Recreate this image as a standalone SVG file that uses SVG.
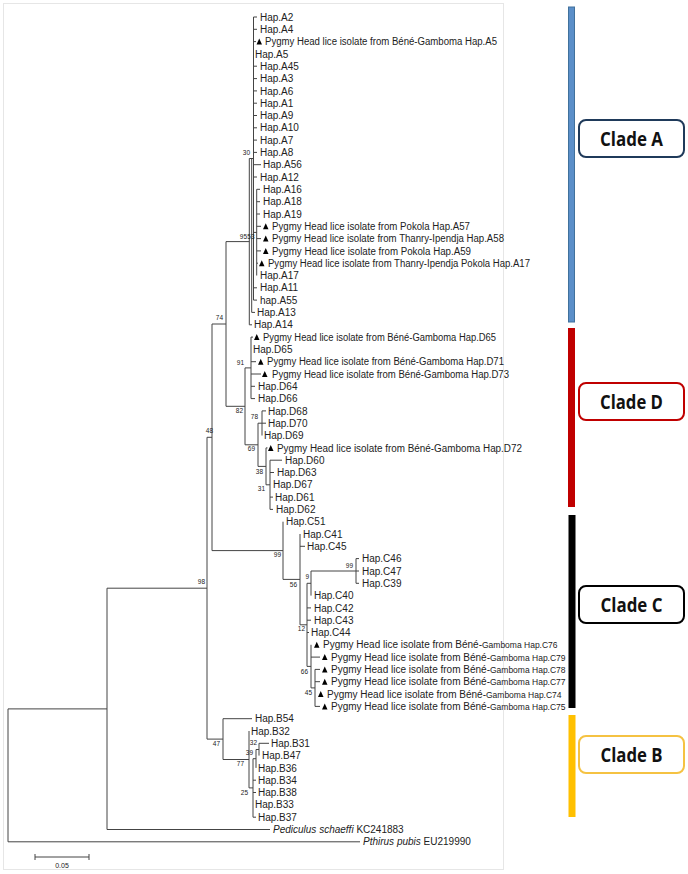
<svg xmlns="http://www.w3.org/2000/svg" xmlns:xlink="http://www.w3.org/1999/xlink" width="688" height="874" viewBox="0 0 688 874">
<defs>
<style>
.l{font-family:"Liberation Sans",Arial,sans-serif;font-size:10px;fill:#222}
.b{font-family:"Liberation Sans",Arial,sans-serif;font-size:6.5px;fill:#222;text-anchor:end}
.c{fill:none;stroke:#444;stroke-width:1}
.cl{font-family:"Open Sans","Noto Sans",sans-serif;font-weight:bold;font-size:19px;fill:#111;text-anchor:middle}
.box{fill:#fff;stroke-width:2}
.i{font-style:italic}
</style>
<path id="tri" d="M0,0 H5.5 L2.75,-6 Z" fill="#000"/>
</defs>
<rect x="0" y="0" width="688" height="874" fill="#fff"/>
<rect x="3.5" y="3.5" width="500" height="866" fill="none" stroke="#e6e6e6" stroke-width="1"/>

<g id="connectors" class="c">
<path d="M8,708.9 V841.8 M8,708.9 H107 M8,841.8 H360"/>
<path d="M107,588.2 V829.5 M107,588.2 H207 M107,829.5 H270"/>
<path d="M207,437.3 V739.1 M207,437.3 H212 M207,739.1 H223"/>
<path d="M212,324 V550.6 M212,324 H226 M212,550.6 H283"/>
<path d="M226,241.6 V406.3 M226,241.6 H249.3 M226,406.3 H245"/>
<path d="M249.3,158.5 V324.8 M249.3,158.5 H253.5 M249.3,324.8 H252"/>
<path d="M251.7,158.5 V312.4 M251.7,312.4 H255"/>
<path d="M253.5,17 V300.1 M253.5,17 H257 M253.5,29.3 H257 M253.5,41.6 H256 M253.5,66.2 H257 M253.5,78.6 H257 M253.5,90.9 H257 M253.5,103.2 H257 M253.5,115.5 H257 M253.5,127.8 H257 M253.5,140.1 H257 M253.5,152.4 H257 M253.5,164.7 H261 M253.5,177 H257 M253.5,232.4 H256.7 M253.5,287.8 H257 M253.5,300.1 H257"/>
<path d="M256.7,189.3 V275.5 M256.7,189.3 H260 M256.7,201.7 H260 M256.7,214 H260 M256.7,226.3 H261 M256.7,238.6 H261 M256.7,250.9 H261 M256.7,263.2 H258"/>
<path d="M245,367.9 V444.8 M245,367.9 H251 M245,444.8 H258"/>
<path d="M251,337.1 V398.6 M251,337.1 H253 M251,361.7 H256 M251,374 H261 M251,386.3 H255 M251,398.6 H255"/>
<path d="M258,423.2 V466.4 M258,423.2 H262 M258,466.4 H266"/>
<path d="M262,410.9 V435.5 M262,410.9 H266 M262,423.2 H266"/>
<path d="M266,447.9 V484.8 M266,447.9 H267.5 M266,484.8 H270"/>
<path d="M270,460.2 V509.4 M270,460.2 H282 M270,472.5 H274 M270,497.1 H273 M270,509.4 H273"/>
<path d="M283,521.7 V579.4 M283,579.4 H300"/>
<path d="M300,534 V624.8 M300,546.3 H305 M300,624.8 H307"/>
<path d="M307,583.3 V666.4 M307,583.3 H311 M307,607.9 H311 M307,620.2 H311 M307,632.5 H309 M307,666.4 H311"/>
<path d="M311,571 V595.6 M311,571 H356"/>
<path d="M356,558.6 V583.3 M356,558.6 H359 M356,571 H359 M356,583.3 H359"/>
<path d="M311,644.8 V687.9 M311,657.1 H320 M311,687.9 H315"/>
<path d="M315,669.4 V706.4 M315,669.4 H320 M315,681.7 H320 M315,706.4 H320"/>
<path d="M223,718.7 V759.5 M223,718.7 H252 M223,759.5 H249"/>
<path d="M249,731 V787.9 M249,787.9 H253"/>
<path d="M253,758.7 V817.2 M253,758.7 H256 M253,780.2 H256 M253,792.5 H256 M253,817.2 H256"/>
<path d="M256,749.5 V767.9 M256,749.5 H259"/>
<path d="M259,743.3 V755.6 M259,743.3 H269"/>
<path d="M35,857 H89 M35,854 V860 M89,854 V860"/>
</g>

<g id="bootstrap">
<text class="b" x="250" y="154.5">30</text>
<text class="b" x="247" y="239">95</text>
<text class="b" x="254.5" y="239">53</text>
<text class="b" x="223" y="320">74</text>
<text class="b" x="244" y="365">91</text>
<text class="b" x="243" y="413">82</text>
<text class="b" x="258" y="419">78</text>
<text class="b" x="255" y="451">69</text>
<text class="b" x="263" y="474">38</text>
<text class="b" x="265" y="491">31</text>
<text class="b" x="213" y="433">48</text>
<text class="b" x="281" y="557">99</text>
<text class="b" x="297" y="587">56</text>
<text class="b" x="309" y="579">9</text>
<text class="b" x="353" y="568">99</text>
<text class="b" x="305" y="631">12</text>
<text class="b" x="308" y="674">66</text>
<text class="b" x="312" y="695">45</text>
<text class="b" x="205" y="584">98</text>
<text class="b" x="220" y="746">47</text>
<text class="b" x="257" y="745">32</text>
<text class="b" x="253" y="755">39</text>
<text class="b" x="244" y="766">77</text>
<text class="b" x="248" y="795">25</text>
</g>

<g id="leaf-A2"><text class="l" x="260" y="20.6">Hap.A2</text></g>
<g id="leaf-A4"><text class="l" x="260" y="32.9">Hap.A4</text></g>
<g id="leaf-A5-pygmy"><use xlink:href="#tri" x="256.5" y="44.6"/><text class="l" x="265" y="45.2" textLength="232" lengthAdjust="spacingAndGlyphs">Pygmy Head lice isolate from Béné-Gamboma Hap.A5</text></g>
<g id="leaf-A5"><text class="l" x="255" y="57.5">Hap.A5</text></g>
<g id="leaf-A45"><text class="l" x="260" y="69.8">Hap.A45</text></g>
<g id="leaf-A3"><text class="l" x="260" y="82.2">Hap.A3</text></g>
<g id="leaf-A6"><text class="l" x="260" y="94.5">Hap.A6</text></g>
<g id="leaf-A1"><text class="l" x="260" y="106.8">Hap.A1</text></g>
<g id="leaf-A9"><text class="l" x="260" y="119.1">Hap.A9</text></g>
<g id="leaf-A10"><text class="l" x="260" y="131.4">Hap.A10</text></g>
<g id="leaf-A7"><text class="l" x="260" y="143.7">Hap.A7</text></g>
<g id="leaf-A8"><text class="l" x="260" y="156">Hap.A8</text></g>
<g id="leaf-A56"><text class="l" x="263" y="168.3">Hap.A56</text></g>
<g id="leaf-A12"><text class="l" x="260" y="180.6">Hap.A12</text></g>
<g id="leaf-A16"><text class="l" x="263" y="192.9">Hap.A16</text></g>
<g id="leaf-A18"><text class="l" x="263" y="205.3">Hap.A18</text></g>
<g id="leaf-A19"><text class="l" x="263" y="217.6">Hap.A19</text></g>
<g id="leaf-A57"><use xlink:href="#tri" x="263" y="229.3"/><text class="l" x="272" y="229.9" textLength="198" lengthAdjust="spacingAndGlyphs">Pygmy Head lice isolate from Pokola Hap.A57</text></g>
<g id="leaf-A58"><use xlink:href="#tri" x="263" y="241.6"/><text class="l" x="272" y="242.2" textLength="232" lengthAdjust="spacingAndGlyphs">Pygmy Head lice isolate from Thanry-Ipendja Hap.A58</text></g>
<g id="leaf-A59"><use xlink:href="#tri" x="263" y="253.9"/><text class="l" x="272" y="254.5" textLength="199" lengthAdjust="spacingAndGlyphs">Pygmy Head lice isolate from Pokola Hap.A59</text></g>
<g id="leaf-A17-pygmy"><use xlink:href="#tri" x="259" y="266.2"/><text class="l" x="268" y="266.8" textLength="262" lengthAdjust="spacingAndGlyphs">Pygmy Head lice isolate from Thanry-Ipendja Pokola Hap.A17</text></g>
<g id="leaf-A17"><text class="l" x="260" y="279.1">Hap.A17</text></g>
<g id="leaf-A11"><text class="l" x="260" y="291.4">Hap.A11</text></g>
<g id="leaf-A55"><text class="l" x="260" y="303.7">hap.A55</text></g>
<g id="leaf-A13"><text class="l" x="257" y="316">Hap.A13</text></g>
<g id="leaf-A14"><text class="l" x="254" y="328.4">Hap.A14</text></g>

<g id="leaf-D65-pygmy"><use xlink:href="#tri" x="254" y="340.1"/><text class="l" x="263" y="340.7" textLength="233" lengthAdjust="spacingAndGlyphs">Pygmy Head lice isolate from Béné-Gamboma Hap.D65</text></g>
<g id="leaf-D65"><text class="l" x="253" y="353">Hap.D65</text></g>
<g id="leaf-D71"><use xlink:href="#tri" x="258" y="364.7"/><text class="l" x="267" y="365.3" textLength="237" lengthAdjust="spacingAndGlyphs">Pygmy Head lice isolate from Béné-Gamboma Hap.D71</text></g>
<g id="leaf-D73"><use xlink:href="#tri" x="262" y="377"/><text class="l" x="272" y="377.6" textLength="237" lengthAdjust="spacingAndGlyphs">Pygmy Head lice isolate from Béné-Gamboma Hap.D73</text></g>
<g id="leaf-D64"><text class="l" x="258" y="389.9">Hap.D64</text></g>
<g id="leaf-D66"><text class="l" x="258" y="402.2">Hap.D66</text></g>
<g id="leaf-D68"><text class="l" x="268" y="414.5">Hap.D68</text></g>
<g id="leaf-D70"><text class="l" x="268" y="426.8">Hap.D70</text></g>
<g id="leaf-D69"><text class="l" x="264" y="439.1">Hap.D69</text></g>
<g id="leaf-D72"><use xlink:href="#tri" x="268" y="450.9"/><text class="l" x="277" y="451.5" textLength="245" lengthAdjust="spacingAndGlyphs">Pygmy Head lice isolate from Béné-Gamboma Hap.D72</text></g>
<g id="leaf-D60"><text class="l" x="285" y="463.8">Hap.D60</text></g>
<g id="leaf-D63"><text class="l" x="277" y="476.1">Hap.D63</text></g>
<g id="leaf-D67"><text class="l" x="273" y="488.4">Hap.D67</text></g>
<g id="leaf-D61"><text class="l" x="275" y="500.7">Hap.D61</text></g>
<g id="leaf-D62"><text class="l" x="276" y="513">Hap.D62</text></g>

<g id="leaf-C51"><text class="l" x="286" y="525.3">Hap.C51</text></g>
<g id="leaf-C41"><text class="l" x="303" y="537.6">Hap.C41</text></g>
<g id="leaf-C45"><text class="l" x="307" y="549.9">Hap.C45</text></g>
<g id="leaf-C46"><text class="l" x="362" y="562.2">Hap.C46</text></g>
<g id="leaf-C47"><text class="l" x="362" y="574.6">Hap.C47</text></g>
<g id="leaf-C39"><text class="l" x="362" y="586.9">Hap.C39</text></g>
<g id="leaf-C40"><text class="l" x="314" y="599.2">Hap.C40</text></g>
<g id="leaf-C42"><text class="l" x="314" y="611.5">Hap.C42</text></g>
<g id="leaf-C43"><text class="l" x="314" y="623.8">Hap.C43</text></g>
<g id="leaf-C44"><text class="l" x="311" y="636.1">Hap.C44</text></g>
<g id="leaf-C76"><use xlink:href="#tri" x="314" y="647.8"/><text class="l" x="323" y="648.4">Pygmy Head lice isolate from Béné-<tspan font-size="8.5">Gamboma Hap.C76</tspan></text></g>
<g id="leaf-C79"><use xlink:href="#tri" x="322" y="660.1"/><text class="l" x="331" y="660.7">Pygmy Head lice isolate from Béné-<tspan font-size="8.5">Gamboma Hap.C79</tspan></text></g>
<g id="leaf-C78"><use xlink:href="#tri" x="322" y="672.4"/><text class="l" x="331" y="673">Pygmy Head lice isolate from Béné-<tspan font-size="8.5">Gamboma Hap.C78</tspan></text></g>
<g id="leaf-C77"><use xlink:href="#tri" x="322" y="684.7"/><text class="l" x="331" y="685.3">Pygmy Head lice isolate from Béné-<tspan font-size="8.5">Gamboma Hap.C77</tspan></text></g>
<g id="leaf-C74"><use xlink:href="#tri" x="318" y="697.1"/><text class="l" x="327" y="697.7">Pygmy Head lice isolate from Béné-<tspan font-size="8.5">Gamboma Hap.C74</tspan></text></g>
<g id="leaf-C75"><use xlink:href="#tri" x="322" y="709.4"/><text class="l" x="331" y="710">Pygmy Head lice isolate from Béné-<tspan font-size="8.5">Gamboma Hap.C75</tspan></text></g>

<g id="leaf-B54"><text class="l" x="255" y="722.3">Hap.B54</text></g>
<g id="leaf-B32"><text class="l" x="251" y="734.6">Hap.B32</text></g>
<g id="leaf-B31"><text class="l" x="271" y="746.9">Hap.B31</text></g>
<g id="leaf-B47"><text class="l" x="262" y="759.2">Hap.B47</text></g>
<g id="leaf-B36"><text class="l" x="258" y="771.5">Hap.B36</text></g>
<g id="leaf-B34"><text class="l" x="258" y="783.8">Hap.B34</text></g>
<g id="leaf-B38"><text class="l" x="258" y="796.1">Hap.B38</text></g>
<g id="leaf-B33"><text class="l" x="255" y="808.4">Hap.B33</text></g>
<g id="leaf-B37"><text class="l" x="258" y="820.8">Hap.B37</text></g>
<g id="leaf-Pediculus"><text class="l" x="273" y="833.1"><tspan class="i">Pediculus schaeffi</tspan> KC241883</text></g>
<g id="leaf-Pthirus"><text class="l" x="363" y="845.4"><tspan class="i">Pthirus pubis</tspan> EU219990</text></g>

<g id="scale-label"><text x="62" y="868" font-family="Liberation Sans, Arial, sans-serif" font-size="7" fill="#222" text-anchor="middle">0.05</text></g>

<g id="clade-A">
<rect x="568.5" y="7" width="6" height="315" fill="#5b8fc9" stroke="#41719c" stroke-width="1"/>
<rect class="box" x="579" y="120" width="105" height="37" rx="7" stroke="#1f3a5a"/>
<text class="cl" x="631.5" y="145.5" textLength="63" lengthAdjust="spacingAndGlyphs">Clade A</text>
</g>
<g id="clade-D">
<rect x="568" y="328" width="7" height="179" fill="#c00000"/>
<rect class="box" x="579" y="383" width="105" height="37" rx="7" stroke="#c00000"/>
<text class="cl" x="631.5" y="408.5" textLength="63" lengthAdjust="spacingAndGlyphs">Clade D</text>
</g>
<g id="clade-C">
<rect x="568.5" y="515" width="7" height="193" fill="#000"/>
<rect class="box" x="579" y="586" width="105" height="37" rx="7" stroke="#000"/>
<text class="cl" x="631.5" y="611.5" textLength="62" lengthAdjust="spacingAndGlyphs">Clade C</text>
</g>
<g id="clade-B">
<rect x="568.5" y="715" width="7" height="102" fill="#ffc000"/>
<rect class="box" x="579" y="736" width="105" height="37" rx="7" stroke="#f5c242"/>
<text class="cl" x="631.5" y="761.5" textLength="62" lengthAdjust="spacingAndGlyphs">Clade B</text>
</g>
</svg>
